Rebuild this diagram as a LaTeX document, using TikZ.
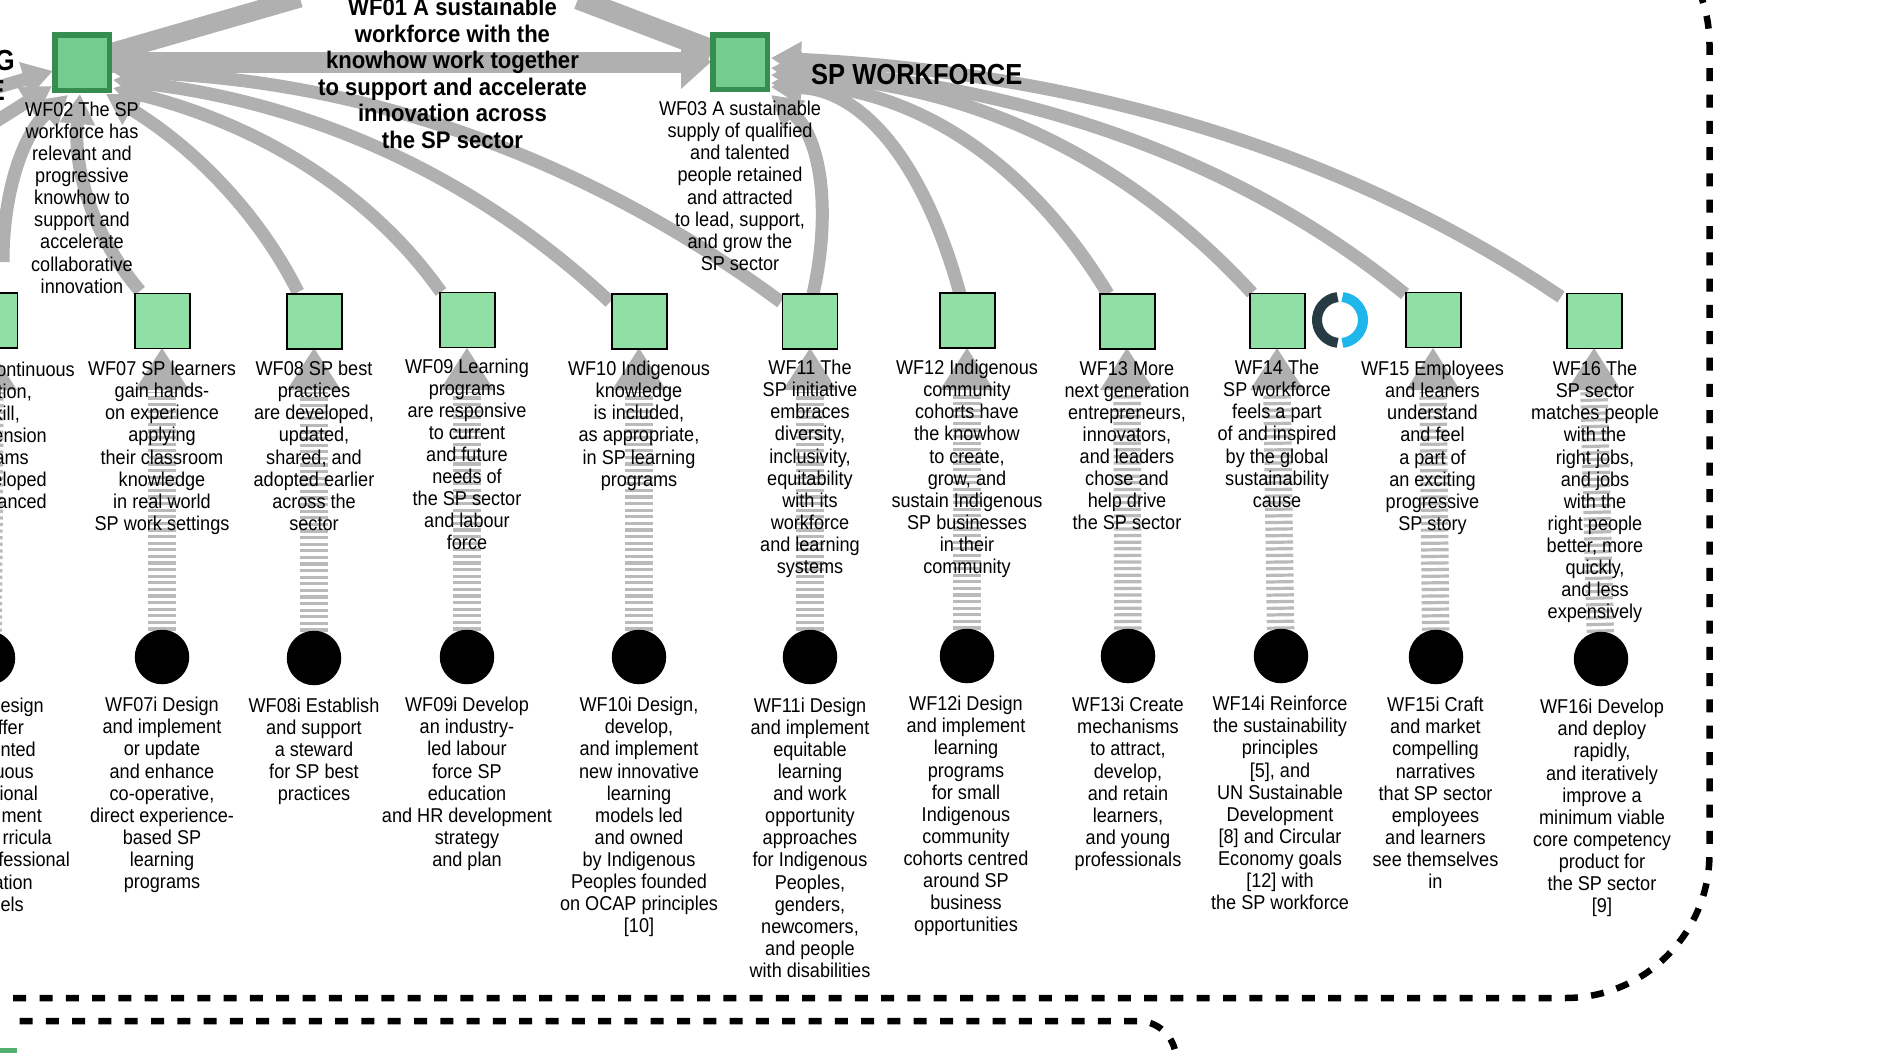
\documentclass[tikz,border=0pt]{standalone}
\usepackage{fontspec}
\usetikzlibrary{arrows.meta}
\setmainfont{Liberation Sans}
\newfontfamily\tfam[FakeStretch=.905]{Liberation Sans}
\newfontfamily\hfam[FakeStretch=.92]{Liberation Sans}
\newfontfamily\sfam[FakeStretch=.88]{Liberation Sans}
\definecolor{bandgray}{HTML}{B0B0B0}
\definecolor{stemgray}{HTML}{BABABA}
\definecolor{lightbox}{HTML}{90E0A5}
\definecolor{midbox}{HTML}{74CC8E}
\definecolor{darkedge}{HTML}{358D50}
\definecolor{ringdark}{HTML}{263B44}
\definecolor{ringblue}{HTML}{1FB6EC}
\definecolor{lowgreen}{HTML}{52B06E}
\tikzset{
  x=1pt,y=-1pt,
  band/.style={draw=bandgray,line width=13pt,-{Triangle[length=30pt,width=34pt]},line cap=butt},
  plainband/.style={draw=bandgray,line width=19pt},
  wfbox/.style={draw=black,line width=1.6pt,fill=lightbox},
  bigbox/.style={draw=darkedge,line width=5.5pt,fill=midbox},
  dot/.style={fill=black,draw=none},
  stem/.style={draw=stemgray,line width=27.5pt,dash pattern=on 3.2pt off 3.4pt},
  lab/.style={anchor=north,align=center,inner sep=0pt,font=\tfam\fontsize{20}{22.1}\selectfont},
  frag/.style={anchor=north east,inner sep=0pt,text height=14.5pt,text depth=4pt,font=\tfam\fontsize{20}{22}\selectfont},
  head/.style={anchor=north,align=center,inner sep=0pt,font=\hfam\bfseries\fontsize{24}{26.5}\selectfont},
  sect/.style={inner sep=0pt,font=\sfam\bfseries\fontsize{29}{30}\selectfont},
  frame/.style={draw=black,line width=6.5pt,dash pattern=on 13pt off 13.3pt}
}
\begin{document}
\begin{tikzpicture}
\useasboundingbox (0,0) rectangle (1895,1052);
% frames
\draw[frame] (13.2,998) -- (1565,998) arc[start angle=90,end angle=0,radius=144.5] -- (1709.5,45) arc[start angle=0,end angle=-60,radius=145];
\draw[frame] (19.5,1021) -- (1138,1021) arc[start angle=-90,end angle=-15,radius=38];
\node[fill=lowgreen,draw=none,inner sep=0pt,minimum width=17pt,minimum height=5pt,anchor=north west] (low) at (0,1048) {};

% upper connectors
\draw[plainband] (82,61) -- (300,-2);
\draw[plainband,line width=21pt] (578,-1) -- (712,50);
\draw[draw=bandgray,line width=21pt,-{Triangle[length=30pt,width=52pt]}] (112,62) -- (711,62);
% into WF02 from the left
\draw[band] (-5,88) -- (53,71);
\draw[band] (-5,122) -- (52,86);
\draw[band] (3,262) .. controls (3,188) and (25,132) .. (68,95);
% into WF02
\draw[band] (140,291) .. controls (93,236) and (73,170) .. (80,94);
\draw[band] (298,292) .. controls (259,214) and (195,148) .. (106,94);
\draw[band] (441,292) .. controls (371,193) and (261,125) .. (113,88);
\draw[band] (610,302) .. controls (476,176) and (310,102) .. (113,80);
\draw[band] (781,302) .. controls (582,155) and (360,79) .. (113,72);
% into WF03
\draw[band] (813,294) .. controls (830,220) and (824,140) .. (771,95);
\draw[band] (960,294) .. controls (923,158) and (860,89) .. (771,87);
\draw[band] (1108,294) .. controls (1026,159) and (914,89) .. (771,83);
\draw[band] (1252,293) .. controls (1124,154) and (964,82) .. (771,75);
\draw[band] (1405,294) .. controls (1242,161) and (1030,86) .. (771,68);
\draw[band] (1561,297) .. controls (1347,152) and (1084,73) .. (771,58);

% stems from dots to boxes
\foreach \sx/\ex/\sy in {-12/-10/658,162/162/657,314/314/658,467/467/657,639/639/657,810/810/657,967/967/656,1128/1127/656,1281/1277/656,1436/1433/657,1601/1594/659}{
  \draw[stem] (\sx,\sy) -- (\ex,392);
  \fill[bandgray] (\ex,348) -- (\ex+27,390) -- (\ex-27,390) -- cycle;
}

% boxes
\node[bigbox,minimum width=54.5pt,minimum height=55.5pt,inner sep=0pt] (wf02) at (82,62.5) {};
\node[bigbox,minimum width=54.5pt,minimum height=54.5pt,inner sep=0pt] (wf03) at (740,62) {};
\node[wfbox,inner sep=0pt,minimum width=55pt,minimum height=55pt] (b6) at (-10,320.5) {};
\foreach \n/\cx/\cy in {b7/162.5/321,b8/314.5/321.5,b9/467.5/320,b10/639.5/321.5,b11/810/321.5,b12/967.5/320.5,b13/1127.5/321.5,b14/1277.5/321,b15/1433.5/320,b16/1594.5/321}{
  \node[wfbox,inner sep=0pt,minimum width=55pt,minimum height=55pt] (\n) at (\cx,\cy) {};
}
% dots
\foreach \n/\cx/\cy in {d6/-12/658,d7/162/657,d8/314/658,d9/467/657,d10/639/657,d11/810/657,d12/967/656,d13/1128/656,d14/1281/656,d15/1436/657,d16/1601/659}{
  \node[dot,circle,inner sep=0pt,minimum size=54.5pt] (\n) at (\cx,\cy) {};
}
% ring
\draw[ringdark,line width=10pt] (1337.6,297.1) arc[start angle=-96,end angle=-264,radius=23];
\draw[ringblue,line width=10pt] (1342.4,297.1) arc[start angle=-84,end angle=84,radius=23];

% headline labels
\node[head] (hd) at (452.5,-2) {WF01 A sustainable\\workforce with the\\knowhow work together\\to support and accelerate\\innovation across\\the SP sector};
\node[sect,anchor=west] (swf) at (811,74.5) {SP WORKFORCE};
\node[sect,anchor=north east] (g1) at (15,50) {G};
\node[sect,anchor=north east] (g2) at (5,80) {E};

% top labels
\node[lab] (t2) at (82,101.7) {WF02 The SP\\workforce has\\relevant and\\progressive\\knowhow to\\support and\\accelerate\\collaborative\\innovation};
\node[lab] (t3) at (740,101) {WF03 A sustainable\\supply of qualified\\and talented\\people retained\\and attracted\\to lead, support,\\and grow the\\SP sector};
\foreach \rx/\ry/\tx in {75/361.5/ontinuous,32/383.6/{tion,},20/405.7/{kill,},47/427.8/ension,29/449.9/ams,47/472/eloped,47/494.1/anced}{
  \node[frag] at (\rx,\ry) {\tx};
}
\node[lab] (t7) at (162,361) {WF07 SP learners\\gain hands-\\on experience\\applying\\their classroom\\knowledge\\in real world\\SP work settings};
\node[lab] (t8) at (314,361) {WF08 SP best\\practices\\are developed,\\updated,\\shared, and\\adopted earlier\\across the\\sector};
\node[lab] (t9) at (467,358.5) {WF09 Learning\\programs\\are responsive\\to current\\and future\\needs of\\the SP sector\\and labour\\force};
\node[lab] (t10) at (639,361) {WF10 Indigenous\\knowledge\\is included,\\as appropriate,\\in SP learning\\programs};
\node[lab] (t11) at (810,360) {WF11 The\\SP initiative\\embraces\\diversity,\\inclusivity,\\equitability\\with its\\workforce\\and learning\\systems};
\node[lab] (t12) at (967,360) {WF12 Indigenous\\community\\cohorts have\\the knowhow\\to create,\\grow, and\\sustain Indigenous\\SP businesses\\in their\\community};
\node[lab] (t13) at (1127,361) {WF13 More\\next generation\\entrepreneurs,\\innovators,\\and leaders\\chose and\\help drive\\the SP sector};
\node[lab] (t14) at (1277,360) {WF14 The\\SP workforce\\feels a part\\of and inspired\\by the global\\sustainability\\cause};
\node[lab] (t15) at (1432.5,361) {WF15 Employees\\and leaners\\understand\\and feel\\a part of\\an exciting\\progressive\\SP story};
\node[lab] (t16) at (1595,361) {WF16 The\\SP sector\\matches people\\with the\\right jobs,\\and jobs\\with the\\right people\\better, more\\quickly,\\and less\\expensively};

% bottom labels
\foreach \rx/\ry/\tx in {44/697.5/esign,24/719.6/ffer,36/741.7/nted,34/763.8/uous,38/785.9/ional,42/808/ment,52/830.1/rricula,70/852.2/fessional,33/874.3/ation,24/896.4/els}{
  \node[frag] at (\rx,\ry) {\tx};
}
\node[lab] (i7) at (162,697) {WF07i Design\\and implement\\or update\\and enhance\\co-operative,\\direct experience-\\based SP\\learning\\programs};
\node[lab] (i8) at (314,697.5) {WF08i Establish\\and support\\a steward\\for SP best\\practices};
\node[lab] (i9) at (467,697) {WF09i Develop\\an industry-\\led labour\\force SP\\education\\and HR development\\strategy\\and plan};
\node[lab] (i10) at (639,697) {WF10i Design,\\develop,\\and implement\\new innovative\\learning\\models led\\and owned\\by Indigenous\\Peoples founded\\on OCAP principles\\{[10]}};
\node[lab] (i11) at (810,697.5) {WF11i Design\\and implement\\equitable\\learning\\and work\\opportunity\\approaches\\for Indigenous\\Peoples,\\genders,\\newcomers,\\and people\\with disabilities};
\node[lab] (i12) at (966,696) {WF12i Design\\and implement\\learning\\programs\\for small\\Indigenous\\community\\cohorts centred\\around SP\\business\\opportunities};
\node[lab] (i13) at (1128,697) {WF13i Create\\mechanisms\\to attract,\\develop,\\and retain\\learners,\\and young\\professionals};
\node[lab] (i14) at (1280,696) {WF14i Reinforce\\the sustainability\\principles\\{[5]}, and\\UN Sustainable\\Development\\{[8]} and Circular\\Economy goals\\{[12]} with\\the SP workforce};
\node[lab] (i15) at (1435.5,697) {WF15i Craft\\and market\\compelling\\narratives\\that SP sector\\employees\\and learners\\see themselves\\in};
\node[lab] (i16) at (1602,699) {WF16i Develop\\and deploy\\rapidly,\\and iteratively\\improve a\\minimum viable\\core competency\\product for\\the SP sector\\{[9]}};
\end{tikzpicture}
\end{document}
